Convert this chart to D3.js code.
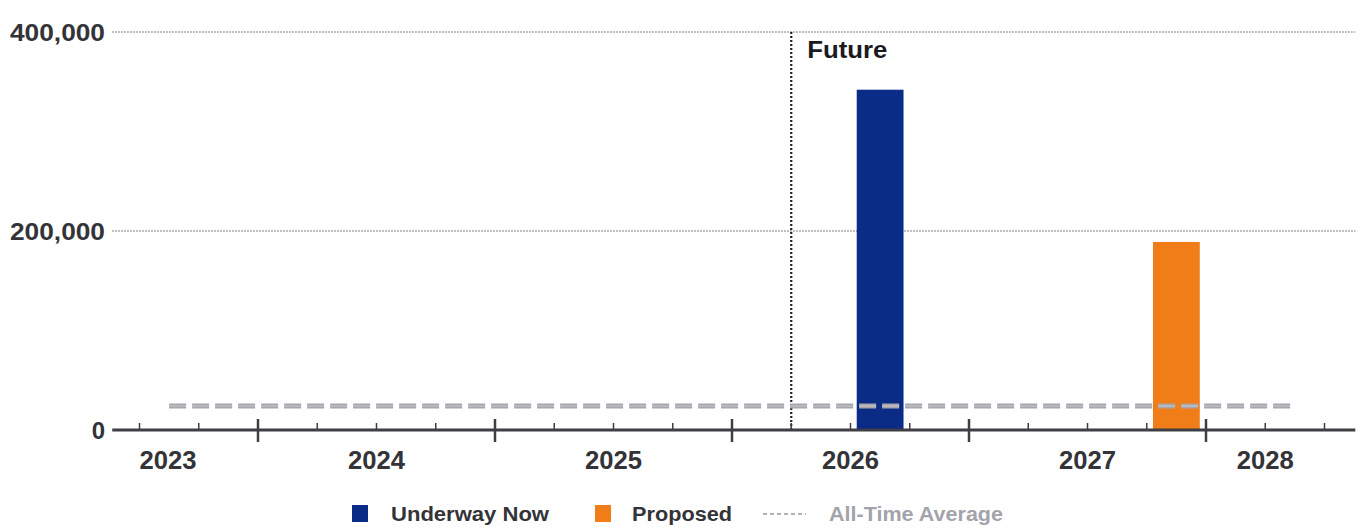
<!DOCTYPE html>
<html><head><meta charset="utf-8">
<script src="https://cdn.jsdelivr.net/npm/d3@7"></script>
<style>body{margin:0;background:#fff;}svg{display:block;font-family:"Liberation Sans",Arial,sans-serif;}</style>
</head><body><svg id="c" width="1364" height="529"></svg>
<script>
// ---- data ----
const yearLabels = ["2023","2024","2025","2026","2027","2028"];
const yearLabelPos = [2023.62, 2024.5, 2025.5, 2026.5, 2027.5, 2028.25];
const quarters = ["2023 Q3","2023 Q4","2024 Q1","2024 Q2","2024 Q3","2024 Q4","2025 Q1","2025 Q2","2025 Q3","2025 Q4","2026 Q1","2026 Q2","2026 Q3","2026 Q4","2027 Q1","2027 Q2","2027 Q3","2027 Q4","2028 Q1","2028 Q2"];
const underwayNow = [0,0,0,0,0,0,0,0,0,0,0,0,342000,0,0,0,0,0,0,0];
const proposed    = [0,0,0,0,0,0,0,0,0,0,0,0,0,0,0,0,0,189000,0,0];
const allTimeAverage = [24000,24000,24000,24000,24000,24000,24000,24000,24000,24000,24000,24000,24000,24000,24000,24000,24000,24000,24000,24000];
const yTicks = [0, 200000, 400000];
const futureStart = "2026 Q2";
const axisRange = [2023.385, 2028.63];

const qNum = q => { const [y, p] = q.split(" Q"); return +y + (+p - 1) / 4; };

const svg = d3.select("#c");
const x = d3.scaleLinear().domain([2024, 2028]).range([258, 1206]);
const y = d3.scaleLinear().domain([0, 400000]).range([430, 32]);
const left = x(axisRange[0]), right = x(axisRange[1]);
const ink = "#333338";

// gridlines
svg.append("g").selectAll("line").data(yTicks.filter(d => d > 0)).join("line")
  .attr("x1", left).attr("x2", right).attr("y1", d => y(d)).attr("y2", d => y(d))
  .attr("stroke", "#555").attr("stroke-width", 1).attr("stroke-dasharray", "1.5,1.5");

// y labels
const fmt = d3.format(",");
svg.append("g").selectAll("text").data(yTicks).join("text")
  .attr("x", 105).attr("y", d => y(d)).attr("dy", "0.36em").attr("text-anchor", "end")
  .attr("font-size", 24).attr("font-weight", "bold").attr("fill", ink)
  .attr("textLength", d => d > 0 ? 95 : null).attr("lengthAdjust", "spacingAndGlyphs")
  .text(fmt);

// future line
svg.append("line").attr("x1", x(qNum(futureStart))).attr("x2", x(qNum(futureStart)))
  .attr("y1", y(400000)).attr("y2", y(0)).attr("stroke", "#222").attr("stroke-width", 2.2)
  .attr("stroke-dasharray", "2,2");
svg.append("text").attr("x", x(qNum(futureStart)) + 16).attr("y", 58)
  .attr("font-size", 23.5).attr("font-weight", "bold").attr("fill", "#1a1a1e")
  .attr("textLength", 80).attr("lengthAdjust", "spacingAndGlyphs").text("Future");

const qw = x(0.25) - x(0);
const bw = qw * 0.79;
// bars
const bars = svg.append("g");
bars.selectAll("rect.u").data(quarters.map((q, i) => ({q, v: underwayNow[i]})).filter(d => d.v > 0)).join("rect")
  .attr("class", "u").attr("x", d => x(qNum(d.q)) + (qw - bw) / 2).attr("width", bw)
  .attr("y", d => y(d.v)).attr("height", d => y(0) - y(d.v)).attr("fill", "#0b2c86");
bars.selectAll("rect.p").data(quarters.map((q, i) => ({q, v: proposed[i]})).filter(d => d.v > 0)).join("rect")
  .attr("class", "p").attr("x", d => x(qNum(d.q)) + (qw - bw) / 2).attr("width", bw)
  .attr("y", d => y(d.v)).attr("height", d => y(0) - y(d.v)).attr("fill", "#f07d18");

// average line
const line = d3.line().x((d, i) => x(qNum(quarters[i]) + 0.125)).y(d => y(d));
svg.append("path").datum(allTimeAverage).attr("d", line).attr("fill", "none")
  .attr("stroke", "#a6a6ac").attr("stroke-width", 5).attr("stroke-dasharray", "17,6");
svg.append("path").datum(allTimeAverage).attr("d", line).attr("fill", "none")
  .attr("stroke", "#cfcfd4").attr("stroke-width", 1.5).attr("stroke-dasharray", "17,6").attr("opacity", 0.6);

// x axis
svg.append("line").attr("x1", left).attr("x2", right).attr("y1", y(0)).attr("y2", y(0))
  .attr("stroke", "#3e3e44").attr("stroke-width", 3);
const minor = d3.range(Math.ceil(axisRange[0] * 4), Math.floor(axisRange[1] * 4) + 1).map(d => d / 4);
svg.append("g").selectAll("line").data(minor).join("line")
  .attr("x1", d => x(d)).attr("x2", d => x(d))
  .attr("y1", d => Number.isInteger(d) ? y(0) - 11 : y(0) - 7)
  .attr("y2", d => Number.isInteger(d) ? y(0) + 12 : y(0))
  .attr("stroke", "#3e3e44").attr("stroke-width", d => Number.isInteger(d) ? 2.5 : 1.5);
svg.append("g").selectAll("text").data(yearLabels).join("text")
  .attr("x", (d, i) => x(yearLabelPos[i])).attr("y", 469).attr("text-anchor", "middle")
  .attr("font-size", 25).attr("font-weight", "bold").attr("fill", ink)
  .attr("textLength", 57).attr("lengthAdjust", "spacingAndGlyphs").text(d => d);

// legend
const lg = svg.append("g").attr("font-size", 21).attr("font-weight", "bold");
lg.append("rect").attr("x", 352).attr("y", 505).attr("width", 16).attr("height", 17).attr("fill", "#0b2c86");
lg.append("text").attr("x", 391).attr("y", 521).attr("fill", ink)
  .attr("textLength", 158).attr("lengthAdjust", "spacingAndGlyphs").text("Underway Now");
lg.append("rect").attr("x", 595).attr("y", 505).attr("width", 16).attr("height", 17).attr("fill", "#f07d18");
lg.append("text").attr("x", 632).attr("y", 521).attr("fill", ink)
  .attr("textLength", 100).attr("lengthAdjust", "spacingAndGlyphs").text("Proposed");
lg.append("line").attr("x1", 763).attr("x2", 806).attr("y1", 514).attr("y2", 514)
  .attr("stroke", "#999").attr("stroke-width", 1.5).attr("stroke-dasharray", "4,3");
lg.append("text").attr("x", 829).attr("y", 521).attr("fill", "#a3a3ab")
  .attr("textLength", 174).attr("lengthAdjust", "spacingAndGlyphs").text("All-Time Average");
</script></body></html>
